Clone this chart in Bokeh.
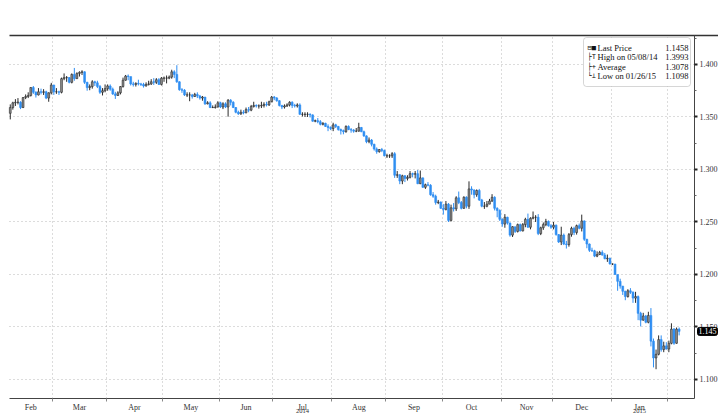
import numpy as np
import pandas as pd
from bokeh.plotting import figure
from bokeh.models import (ColumnDataSource, FixedTicker, LinearAxis, Label,
                          BoxAnnotation, Range1d, Grid)
from bokeh.embed import file_html
from bokeh.resources import INLINE

# ---------------- data (EUR/USD daily) ----------------
start_date = "2014-02-06"
first_open = 1.3535

close_feb14 = [1.3590, 1.3635, 1.3640, 1.3640, 1.3590, 1.3685, 1.3695, 1.3705, 1.3780, 1.3735,
               1.3710, 1.3740, 1.3735, 1.3740, 1.3680, 1.3730, 1.3805]
high_feb14 = [1.3620, 1.3645, 1.3670, 1.3680, 1.3650, 1.3690, 1.3715, 1.3735, 1.3785, 1.3795,
              1.3745, 1.3775, 1.3770, 1.3765, 1.3750, 1.3735, 1.3825]
low_feb14 = [1.3477, 1.3570, 1.3605, 1.3620, 1.3575, 1.3585, 1.3670, 1.3680, 1.3695, 1.3720,
             1.3685, 1.3705, 1.3715, 1.3710, 1.3670, 1.3645, 1.3715]

close_mar14 = [1.3740, 1.3740, 1.3735, 1.3865, 1.3875, 1.3875, 1.3830, 1.3905, 1.3865, 1.3915,
               1.3925, 1.3930, 1.3830, 1.3780, 1.3790, 1.3835, 1.3825, 1.3790, 1.3735, 1.3750, 1.3770]
high_mar14 = [1.3805, 1.3775, 1.3750, 1.3875, 1.3915, 1.3890, 1.3880, 1.3915, 1.3967, 1.3925,
              1.3935, 1.3945, 1.3935, 1.3835, 1.3810, 1.3850, 1.3845, 1.3845, 1.3805, 1.3775, 1.3810]
low_mar14 = [1.3710, 1.3720, 1.3710, 1.3725, 1.3850, 1.3835, 1.3820, 1.3820, 1.3845, 1.3865,
             1.3885, 1.3900, 1.3815, 1.3750, 1.3755, 1.3770, 1.3795, 1.3775, 1.3720, 1.3705, 1.3735]

close_apr14 = [1.3795, 1.3765, 1.3720, 1.3705, 1.3730, 1.3790, 1.3850, 1.3890, 1.3885, 1.3815,
               1.3810, 1.3820, 1.3815, 1.3810, 1.3795, 1.3810, 1.3815, 1.3835, 1.3830, 1.3855,
               1.3810, 1.3870]
high_apr14 = [1.3810, 1.3810, 1.3780, 1.3740, 1.3745, 1.3795, 1.3875, 1.3900, 1.3905, 1.3880,
              1.3835, 1.3830, 1.3855, 1.3825, 1.3825, 1.3830, 1.3845, 1.3860, 1.3870, 1.3870,
              1.3870, 1.3880]
low_apr14 = [1.3750, 1.3750, 1.3710, 1.3672, 1.3700, 1.3715, 1.3780, 1.3845, 1.3850, 1.3800,
             1.3790, 1.3790, 1.3800, 1.3795, 1.3780, 1.3790, 1.3800, 1.3805, 1.3805, 1.3815,
             1.3805, 1.3800]

close_may14 = [1.3870, 1.3870, 1.3880, 1.3930, 1.3905, 1.3835, 1.3760, 1.3755, 1.3710, 1.3710,
               1.3710, 1.3695, 1.3715, 1.3700, 1.3680, 1.3690, 1.3625, 1.3635, 1.3590, 1.3590,
               1.3595, 1.3635]
high_may14 = [1.3885, 1.3895, 1.3895, 1.3950, 1.3945, 1.3993, 1.3840, 1.3775, 1.3765, 1.3735,
              1.3735, 1.3720, 1.3730, 1.3735, 1.3710, 1.3700, 1.3675, 1.3650, 1.3650, 1.3610,
              1.3620, 1.3650]
low_may14 = [1.3835, 1.3820, 1.3860, 1.3865, 1.3870, 1.3825, 1.3750, 1.3730, 1.3700, 1.3690,
             1.3650, 1.3675, 1.3690, 1.3680, 1.3665, 1.3655, 1.3615, 1.3620, 1.3585, 1.3585,
             1.3580, 1.3590]

close_jun14 = [1.3595, 1.3625, 1.3595, 1.3660, 1.3640, 1.3590, 1.3545, 1.3530, 1.3545, 1.3540,
               1.3570, 1.3565, 1.3600, 1.3610, 1.3605, 1.3605, 1.3610, 1.3620, 1.3615, 1.3645, 1.3690]
high_jun14 = [1.3645, 1.3640, 1.3640, 1.3670, 1.3670, 1.3650, 1.3595, 1.3560, 1.3570, 1.3565,
              1.3590, 1.3595, 1.3615, 1.3645, 1.3620, 1.3620, 1.3645, 1.3640, 1.3645, 1.3655, 1.3700]
low_jun14 = [1.3585, 1.3575, 1.3585, 1.3503, 1.3610, 1.3585, 1.3535, 1.3520, 1.3520, 1.3525,
             1.3535, 1.3545, 1.3555, 1.3590, 1.3590, 1.3580, 1.3585, 1.3590, 1.3600, 1.3605, 1.3640]

close_jul14 = [1.3680, 1.3655, 1.3610, 1.3595, 1.3605, 1.3615, 1.3640, 1.3610, 1.3605, 1.3615,
               1.3525, 1.3525, 1.3525, 1.3525, 1.3520, 1.3460, 1.3465, 1.3455, 1.3430, 1.3440,
               1.3410, 1.3400, 1.3390]
high_jul14 = [1.3700, 1.3690, 1.3660, 1.3615, 1.3620, 1.3630, 1.3650, 1.3650, 1.3625, 1.3630,
              1.3630, 1.3545, 1.3545, 1.3545, 1.3535, 1.3525, 1.3475, 1.3490, 1.3470, 1.3450,
              1.3445, 1.3430, 1.3410]
low_jul14 = [1.3660, 1.3645, 1.3600, 1.3575, 1.3580, 1.3595, 1.3600, 1.3585, 1.3590, 1.3590,
             1.3520, 1.3505, 1.3500, 1.3500, 1.3495, 1.3455, 1.3450, 1.3440, 1.3420, 1.3420,
             1.3405, 1.3365, 1.3375]

close_aug14 = [1.3425, 1.3410, 1.3380, 1.3370, 1.3360, 1.3410, 1.3380, 1.3375, 1.3365, 1.3365,
               1.3400, 1.3360, 1.3320, 1.3265, 1.3280, 1.3240, 1.3195, 1.3170, 1.3190, 1.3180, 1.3130]
high_aug14 = [1.3445, 1.3435, 1.3415, 1.3390, 1.3380, 1.3420, 1.3420, 1.3395, 1.3385, 1.3395,
              1.3445, 1.3405, 1.3370, 1.3325, 1.3305, 1.3290, 1.3245, 1.3210, 1.3195, 1.3205, 1.3190]
low_aug14 = [1.3365, 1.3395, 1.3370, 1.3333, 1.3335, 1.3350, 1.3375, 1.3350, 1.3350, 1.3355,
             1.3360, 1.3355, 1.3310, 1.3250, 1.3250, 1.3220, 1.3180, 1.3150, 1.3160, 1.3165, 1.3125]

close_sep14 = [1.3130, 1.3130, 1.3150, 1.2945, 1.2950, 1.2890, 1.2940, 1.2915, 1.2925, 1.2960,
               1.2955, 1.2960, 1.2865, 1.2920, 1.2830, 1.2855, 1.2850, 1.2760, 1.2745, 1.2685,
               1.2690, 1.2630]
high_sep14 = [1.3150, 1.3145, 1.3165, 1.3165, 1.2985, 1.2955, 1.2950, 1.2945, 1.2945, 1.2985,
              1.2970, 1.2985, 1.2995, 1.2990, 1.2925, 1.2865, 1.2880, 1.2860, 1.2785, 1.2760,
              1.2710, 1.2695]
low_sep14 = [1.3110, 1.3110, 1.3110, 1.2920, 1.2920, 1.2860, 1.2860, 1.2880, 1.2895, 1.2915,
             1.2925, 1.2915, 1.2860, 1.2860, 1.2825, 1.2815, 1.2840, 1.2750, 1.2730, 1.2665,
             1.2670, 1.2625]

close_oct14 = [1.2620, 1.2670, 1.2515, 1.2635, 1.2625, 1.2730, 1.2685, 1.2630, 1.2735, 1.2650,
               1.2815, 1.2805, 1.2760, 1.2800, 1.2710, 1.2650, 1.2650, 1.2670, 1.2700, 1.2735,
               1.2630, 1.2610, 1.2525]
high_oct14 = [1.2670, 1.2700, 1.2680, 1.2665, 1.2680, 1.2745, 1.2790, 1.2700, 1.2745, 1.2745,
              1.2887, 1.2840, 1.2810, 1.2810, 1.2815, 1.2720, 1.2690, 1.2700, 1.2720, 1.2765,
              1.2745, 1.2640, 1.2620]
low_oct14 = [1.2570, 1.2610, 1.2500, 1.2505, 1.2600, 1.2605, 1.2670, 1.2620, 1.2625, 1.2630,
             1.2625, 1.2760, 1.2725, 1.2740, 1.2700, 1.2640, 1.2625, 1.2640, 1.2670, 1.2690,
             1.2610, 1.2545, 1.2510]

close_nov14 = [1.2480, 1.2545, 1.2490, 1.2375, 1.2455, 1.2410, 1.2475, 1.2415, 1.2475, 1.2525,
               1.2450, 1.2535, 1.2545, 1.2545, 1.2390, 1.2445, 1.2475, 1.2505, 1.2465, 1.2450]
high_nov14 = [1.2535, 1.2575, 1.2550, 1.2495, 1.2460, 1.2450, 1.2485, 1.2485, 1.2490, 1.2540,
              1.2580, 1.2545, 1.2600, 1.2565, 1.2575, 1.2455, 1.2495, 1.2530, 1.2515, 1.2480]
low_nov14 = [1.2455, 1.2445, 1.2475, 1.2360, 1.2357, 1.2395, 1.2400, 1.2410, 1.2410, 1.2450,
             1.2445, 1.2430, 1.2525, 1.2500, 1.2375, 1.2375, 1.2425, 1.2460, 1.2455, 1.2435]

close_dec14 = [1.2470, 1.2380, 1.2310, 1.2375, 1.2290, 1.2285, 1.2380, 1.2440, 1.2400, 1.2465,
               1.2440, 1.2510, 1.2335, 1.2290, 1.2230, 1.2225, 1.2175, 1.2190, 1.2210, 1.2185,
               1.2150, 1.2155, 1.2100]
high_dec14 = [1.2500, 1.2475, 1.2385, 1.2455, 1.2390, 1.2320, 1.2395, 1.2455, 1.2455, 1.2475,
              1.2485, 1.2570, 1.2515, 1.2340, 1.2295, 1.2255, 1.2235, 1.2220, 1.2225, 1.2230,
              1.2205, 1.2190, 1.2160]
low_dec14 = [1.2430, 1.2370, 1.2300, 1.2280, 1.2280, 1.2247, 1.2265, 1.2360, 1.2375, 1.2380,
             1.2430, 1.2410, 1.2320, 1.2250, 1.2215, 1.2215, 1.2165, 1.2165, 1.2185, 1.2180,
             1.2145, 1.2120, 1.2095]

close_jan15 = [1.2100, 1.2000, 1.1935, 1.1890, 1.1840, 1.1790, 1.1845, 1.1830, 1.1775, 1.1790,
               1.1630, 1.1565, 1.1605, 1.1545, 1.1610, 1.1365, 1.1205, 1.1240, 1.1380, 1.1285,
               1.1320, 1.1290]
high_jan15 = [1.2105, 1.2080, 1.1970, 1.1960, 1.1880, 1.1845, 1.1860, 1.1870, 1.1840, 1.1835,
              1.1800, 1.1645, 1.1635, 1.1615, 1.1645, 1.1680, 1.1390, 1.1285, 1.1420, 1.1420,
              1.1360, 1.1355]
low_jan15 = [1.2090, 1.2000, 1.1845, 1.1865, 1.1805, 1.1755, 1.1780, 1.1815, 1.1730, 1.1730,
             1.1565, 1.1505, 1.1560, 1.1535, 1.1535, 1.1315, 1.1115, 1.1098, 1.1230, 1.1265,
             1.1260, 1.1285]

close_feb15 = [1.1345, 1.1480, 1.1345, 1.1480, 1.1458]
high_feb15 = [1.1370, 1.1535, 1.1490, 1.1495, 1.1495]
low_feb15 = [1.1260, 1.1335, 1.1330, 1.1340, 1.1420]

y_ticks = [1.100, 1.150, 1.200, 1.250, 1.300, 1.350, 1.400]
legend_names = ["Last Price", "High on 05/08/14", "Average", "Low on 01/26/15"]
legend_values = ["1.1458", "1.3993", "1.3078", "1.1098"]
legend_symbols = ["\u229f\u25a0", "\u251cT", "\u251c+", "\u2514\u22a5"]
last_price = 1.1458
last_price_text = "1.145"

# ---------------- assemble ----------------
close = (close_feb14 + close_mar14 + close_apr14 + close_may14 + close_jun14 + close_jul14 +
         close_aug14 + close_sep14 + close_oct14 + close_nov14 + close_dec14 + close_jan15 +
         close_feb15)
high = (high_feb14 + high_mar14 + high_apr14 + high_may14 + high_jun14 + high_jul14 +
        high_aug14 + high_sep14 + high_oct14 + high_nov14 + high_dec14 + high_jan15 + high_feb15)
low = (low_feb14 + low_mar14 + low_apr14 + low_may14 + low_jun14 + low_jul14 +
       low_aug14 + low_sep14 + low_oct14 + low_nov14 + low_dec14 + low_jan15 + low_feb15)
n = min(len(close), len(high), len(low))
close, high, low = close[:n], high[:n], low[:n]
open_ = [first_open] + close[:-1]
dates = pd.bdate_range(start_date, periods=n)
idx = np.arange(n)

up = [c >= o for o, c in zip(open_, close)]
UP_FILL, UP_LINE = "#8f8f8f", "#2b2b2b"
DN = "#2f8ef2"
src = ColumnDataSource(dict(
    x=idx, o=open_, c=close, h=high, l=low,
    top=[max(o, c) for o, c in zip(open_, close)],
    bot=[min(o, c) for o, c in zip(open_, close)],
    fill=[UP_FILL if u else DN for u in up],
    line=[UP_LINE if u else DN for u in up],
))

# month boundaries and mid-month label positions (only months with enough days get a label)
months = dates.to_period("M")
boundaries = [i - 0.5 for i in range(1, n) if months[i] != months[i - 1]]
mids, mlabels, month_mid = [], {}, {}
for m in months.unique():
    ii = idx[months == m]
    mid = float(ii.mean())
    month_mid[m] = mid
    if len(ii) >= 10:
        mids.append(mid)
        mlabels[mid] = m.strftime("%b")

# geometry: the frame covers the whole canvas; the chart area is given in pixels
W, H = 718, 414
AREA_L, AREA_R, AREA_T, AREA_B = 9, 694, 35, 398
X0, X1 = -0.3, 267.0
Y0, Y1 = 1.0819, 1.4276
SX = (X1 - X0) / (AREA_R - AREA_L)
SY = (Y1 - Y0) / (AREA_B - AREA_T)


def px_x(px):
    return X0 + (px - AREA_L) * SX


def px_y(py):
    return Y1 - (py - AREA_T) * SY


p = figure(width=W, height=H, output_backend="svg", toolbar_location=None,
           x_range=Range1d(px_x(0), px_x(W)), y_range=Range1d(px_y(H), px_y(0)),
           y_axis_location="right", min_border=0, min_border_left=0,
           min_border_right=0, min_border_top=0, min_border_bottom=0)
p.outline_line_color = None
p.background_fill_color = "white"

FONT = "Liberation Sans Narrow"
AX = "#444444"

# x axis (drawn at the bottom of the chart area)
xa = p.xaxis[0]
xa.fixed_location = px_y(AREA_B)
xa.bounds = (X0, X1)
xa.ticker = FixedTicker(ticks=mids, minor_ticks=boundaries)
xa.major_label_overrides = mlabels
xa.major_tick_out = 0
xa.major_tick_in = 0
xa.minor_tick_out = 3
xa.minor_tick_in = 0
xa.minor_tick_line_color = "#888888"
xa.axis_line_color = AX
xa.major_label_text_font = FONT
xa.major_label_text_font_size = "8px"
xa.major_label_text_color = "#333333"
xa.major_label_standoff = 1

# y axis (right side of chart area)
ya = p.yaxis[0]
ya.fixed_location = px_x(AREA_R)
ya.bounds = (Y0, Y1)
ya.ticker = FixedTicker(ticks=y_ticks,
                        minor_ticks=[(a + b) / 2 for a, b in zip(y_ticks[:-1], y_ticks[1:])]
                        + [y_ticks[-1] + (y_ticks[1] - y_ticks[0]) / 2])
ya.major_label_overrides = {t: f"{t:.3f}" for t in y_ticks}
ya.major_tick_out = 3
ya.major_tick_in = 0
ya.major_tick_line_width = 2
ya.major_tick_line_color = "#222222"
ya.minor_tick_out = 2
ya.minor_tick_in = 0
ya.minor_tick_line_color = "#666666"
ya.axis_line_color = AX
ya.major_label_text_font = FONT
ya.major_label_text_font_size = "8px"
ya.major_label_text_color = "#333333"
ya.major_label_standoff = 2

# top border line
top_axis = LinearAxis(ticker=FixedTicker(ticks=[]), axis_line_color="#333333",
                      axis_line_width=1.5, major_label_text_font_size="0px",
                      fixed_location=px_y(AREA_T), bounds=(X0, px_x(W)))
p.add_layout(top_axis, "above")

# grids limited to the chart area
p.xgrid.ticker = FixedTicker(ticks=boundaries)
grid_ok = "cross_bounds" in Grid.properties()
for g, cb in ((p.xgrid[0], (Y0, Y1)), (p.ygrid[0], (X0, X1))):
    if grid_ok:
        g.cross_bounds = cb
        g.grid_line_color = "#b8b8b8"
        g.grid_line_dash = "1 3"
        g.grid_line_width = 1
    else:
        g.grid_line_color = None
if not grid_ok:
    p.segment(x0=boundaries, x1=boundaries, y0=[Y0] * len(boundaries),
              y1=[Y1] * len(boundaries), line_color="#b8b8b8", line_dash="1 3")
    p.segment(x0=[X0] * len(y_ticks), x1=[X1] * len(y_ticks), y0=y_ticks, y1=y_ticks,
              line_color="#b8b8b8", line_dash="1 3")

# candles
p.segment(x0="x", y0="l", x1="x", y1="h", color="line", line_width=1, source=src)
p.vbar(x="x", top="top", bottom="bot", width=0.72, fill_color="fill",
       line_color="line", line_width=0.6, source=src)

# legend box
p.add_layout(BoxAnnotation(left=px_x(583), right=px_x(690), top=px_y(37), bottom=px_y(86),
                           fill_color="white", fill_alpha=1, line_color="#777777",
                           line_width=1, border_radius=3, level="overlay"))
row_py = [47, 56.5, 66, 75.5]
for sym, name, val, py in zip(legend_symbols, legend_names, legend_values, row_py):
    p.add_layout(Label(x=px_x(587), y=px_y(py), text=sym, text_font="DejaVu Sans Mono",
                       text_font_size="7px", text_baseline="middle", text_color="#111111",
                       level="overlay"))
    p.add_layout(Label(x=px_x(597), y=px_y(py), text=name, text_font=FONT,
                       text_font_size="8.5px", text_baseline="middle", text_color="#111111",
                       level="overlay"))
    p.add_layout(Label(x=px_x(688), y=px_y(py), text=val, text_font=FONT,
                       text_font_size="8.5px", text_baseline="middle", text_align="right",
                       text_color="#111111", level="overlay"))

# last price tag, just right of the price axis
p.add_layout(Label(x=px_x(AREA_R + 3), y=last_price, text=last_price_text, text_font=FONT,
                   text_font_size="8px", text_baseline="middle", text_color="#ffffff",
                   background_fill_color="#000000", background_fill_alpha=1.0,
                   border_line_color="#000000", border_radius=2, padding=1, level="overlay"))

# year labels under Jul and Jan
for m, mid in month_mid.items():
    if m.month in (7, 1):
        p.add_layout(Label(x=mid, y=px_y(408), text=str(m.year),
                           text_font=FONT, text_font_size="6.5px", text_align="center",
                           text_baseline="top", text_color="#333333"))

open("out.html", "w").write(file_html(p, INLINE))
